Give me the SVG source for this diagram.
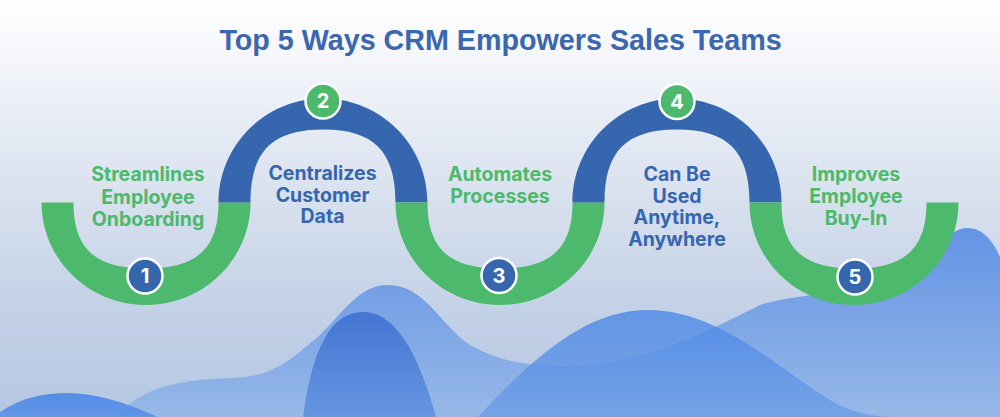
<svg xmlns="http://www.w3.org/2000/svg" width="1000" height="417" viewBox="0 0 1000 417">
  <defs>
    <linearGradient id="bg" x1="0" y1="0" x2="0" y2="1">
      <stop offset="0" stop-color="#ffffff"/>
      <stop offset="0.15" stop-color="#f3f5fa"/>
      <stop offset="0.5" stop-color="#d6dfed"/>
      <stop offset="0.75" stop-color="#c3d1e6"/>
      <stop offset="1" stop-color="#b4c7e2"/>
    </linearGradient>
    <linearGradient id="gA" x1="0" y1="0" x2="0" y2="1">
      <stop offset="0" stop-color="#4a86e6"/>
      <stop offset="1" stop-color="#5a91e6"/>
    </linearGradient>
    <linearGradient id="gB" x1="0" y1="0" x2="0" y2="1">
      <stop offset="0" stop-color="#578ce4"/>
      <stop offset="1" stop-color="#94b6e8"/>
    </linearGradient>
    <linearGradient id="gC" x1="0" y1="0" x2="0" y2="1">
      <stop offset="0" stop-color="#3a6ecf"/>
      <stop offset="1" stop-color="#5d8fe0"/>
    </linearGradient>
    <linearGradient id="gD" x1="0" y1="0" x2="0" y2="1">
      <stop offset="0" stop-color="#4a87e7"/>
      <stop offset="1" stop-color="#6d9de6"/>
    </linearGradient>
    <path id="topArc" d="M-104.5,0 C-104.5,-57.4 -57.7,-104 0,-104 C57.7,-104 104.5,-57.4 104.5,0 L72.5,0 C72.5,-51.1 50.75,-73 0,-73 C-50.75,-73 -72.5,-51.1 -72.5,0 Z"/>
    <path id="botArc" d="M-104.5,0 C-104.5,56.6 -57.7,102.5 0,102.5 C57.7,102.5 104.5,56.6 104.5,0 L72.5,0 C72.5,46.2 50.75,66 0,66 C-50.75,66 -72.5,46.2 -72.5,0 Z"/>
  </defs>
  <style>
    .blue { fill: #3566ae; }
    .green { fill: #4cb96c; }
    .badge { stroke: #ffffff; stroke-width: 2.5; }
    .num { font-family: Inter, "Liberation Sans", sans-serif; font-weight: 700; font-size: 20px; fill: #ffffff; text-anchor: middle; }
    .lbl { font-family: Inter, "Liberation Sans", sans-serif; font-weight: 700; font-size: 19.5px; text-anchor: middle; }
    .lg { fill: #4cb96c; }
    .lb { fill: #3566ae; }
    .title { font-family: "Liberation Sans", Arial, sans-serif; font-weight: 700; font-size: 28.7px; fill: #3a67ad; text-anchor: middle; }
  </style>

  <rect x="0" y="0" width="1000" height="417" fill="url(#bg)"/>

  <g id="background-hills">
    <path d="M117,417 C135,395 160,380 233,378 C275,376 290,360 320,335 C345,310 360,285 388,285 C425,285 440,325 470,345 C500,362 530,366 564,366 C640,366 700,335 760,305 C800,292 880,292 910,280 C935,250 950,228 967,228 C985,228 995,245 1000,257 L1000,417 Z" fill="url(#gB)" fill-opacity="0.9"/>
    <path d="M0,412 C20,398 45,393 67,393 C95,393 125,402 158,417 L0,417 Z" fill="url(#gA)" fill-opacity="0.9"/>
    <path d="M303,417 C312,350 330,312 363,312 C398,312 420,360 436,417 Z" fill="url(#gC)" fill-opacity="0.85"/>
    <path d="M478,417 C540,350 590,310 648,310 C720,310 780,370 830,400 C850,412 870,417 900,417 Z" fill="url(#gD)" fill-opacity="0.8"/>
  </g>

  <text class="title" x="500.5" y="50">Top 5 Ways CRM Empowers Sales Teams</text>

  <g id="step1">
    <use href="#botArc" class="green" transform="translate(146,202.5)"/>
    <circle class="blue badge" cx="145" cy="276" r="17.5"/>
    <text class="num" x="145" y="283">1</text>
    <text class="lbl lg" x="148" y="181"><tspan x="148">Streamlines</tspan><tspan x="148" dy="22.5">Employee</tspan><tspan x="148" dy="22.5">Onboarding</tspan></text>
  </g>

  <g id="step2">
    <use href="#topArc" class="blue" transform="translate(323,202.5)"/>
    <circle class="green badge" cx="323" cy="101" r="17.5"/>
    <text class="num" x="323" y="108">2</text>
    <text class="lbl lb" x="322.5" y="180"><tspan x="322.5">Centralizes</tspan><tspan x="322.5" dy="21.5">Customer</tspan><tspan x="322.5" dy="21.5">Data</tspan></text>
  </g>

  <g id="step3">
    <use href="#botArc" class="green" transform="translate(500,202.5)"/>
    <circle class="blue badge" cx="499" cy="275.5" r="17.5"/>
    <text class="num" x="499" y="282.5">3</text>
    <text class="lbl lg" x="500" y="181"><tspan x="500">Automates</tspan><tspan x="500" dy="22">Processes</tspan></text>
  </g>

  <g id="step4">
    <use href="#topArc" class="blue" transform="translate(677,202.5)"/>
    <circle class="green badge" cx="677" cy="101.5" r="17.5"/>
    <text class="num" x="677" y="108.5">4</text>
    <text class="lbl lb" x="677" y="181"><tspan x="677">Can Be</tspan><tspan x="677" dy="21.5">Used</tspan><tspan x="677" dy="21.5">Anytime,</tspan><tspan x="677" dy="21.5">Anywhere</tspan></text>
  </g>

  <g id="step5">
    <use href="#botArc" class="green" transform="translate(854,202.5)"/>
    <circle class="blue badge" cx="855" cy="277" r="17.5"/>
    <text class="num" x="855" y="284">5</text>
    <text class="lbl lg" x="856" y="181"><tspan x="856">Improves</tspan><tspan x="856" dy="22">Employee</tspan><tspan x="856" dy="22">Buy-In</tspan></text>
  </g>
</svg>
